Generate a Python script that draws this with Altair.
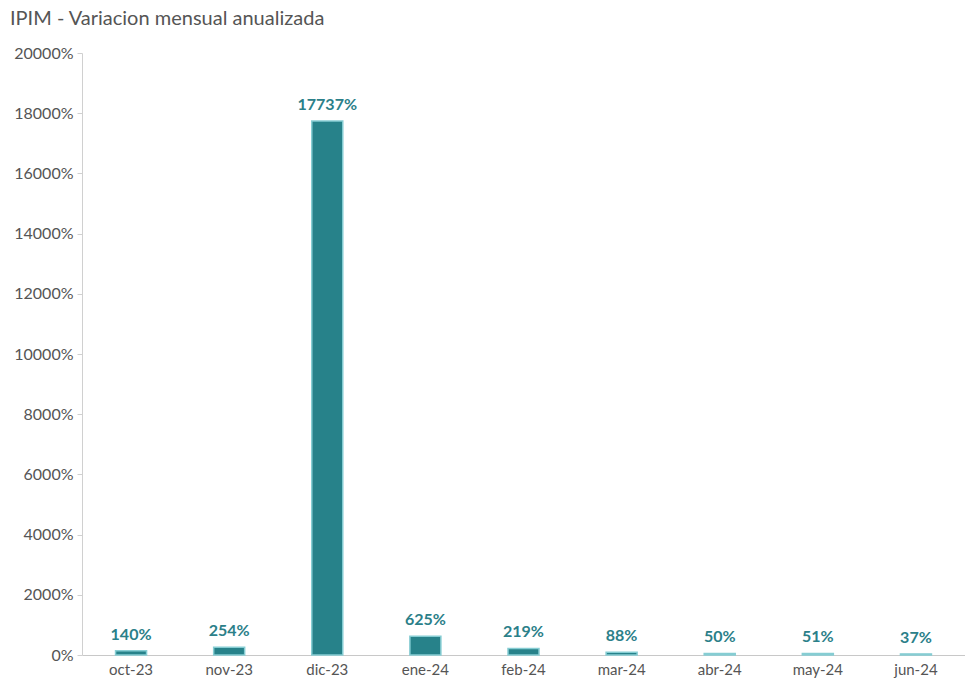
import altair as alt
import pandas as pd

months = ["oct-23", "nov-23", "dic-23", "ene-24", "feb-24", "mar-24", "abr-24", "may-24", "jun-24"]
values = [140, 254, 17737, 625, 219, 88, 50, 51, 37]

df = pd.DataFrame({"mes": months, "valor": values})

FONT = "Lato"
TEAL = "#27828a"
LIGHT = "#86cdd3"

x = alt.X("mes:N", sort=months, title=None,
          scale=alt.Scale(paddingInner=0, paddingOuter=0),
          axis=alt.Axis(labelAngle=0, ticks=False, domainColor="#c8c8c8", labelColor="#555555",
                        labelFont=FONT, labelFontSize=15, labelPadding=7))
y = alt.Y("valor:Q", title=None,
          scale=alt.Scale(domain=[0, 20000], nice=False),
          axis=alt.Axis(values=list(range(0, 20001, 2000)), labelExpr="datum.value + '%'",
                        grid=False, domainColor="#d0d0d0", tickColor="#d0d0d0", tickSize=5,
                        labelColor="#555555", labelFont=FONT, labelFontSize=16, labelPadding=4))

bars = alt.Chart(df).mark_bar(size=31, color=TEAL, stroke=LIGHT, strokeWidth=1.5).encode(x=x, y=y)
labels = alt.Chart(df).transform_calculate(lab="datum.valor + '%'").mark_text(
    baseline="bottom", dy=-8, font=FONT, fontSize=16, fontWeight="bold", color="#2b8089"
).encode(x=x, y=y, text="lab:N")

chart = (bars + labels).properties(
    width=883, height=602,
    title=alt.Title("IPIM - Variacion mensual anualizada", anchor="start", frame="group", dx=-72,
                    offset=16, font=FONT, fontSize=20, fontWeight="normal", color="#555555"),
    autosize=alt.AutoSizeParams(type="none"),
    padding={"left": 82, "top": 53, "right": 0, "bottom": 24},
).configure_view(stroke=None)

chart.save("out.html", embed_options={"renderer": "svg", "actions": False})
